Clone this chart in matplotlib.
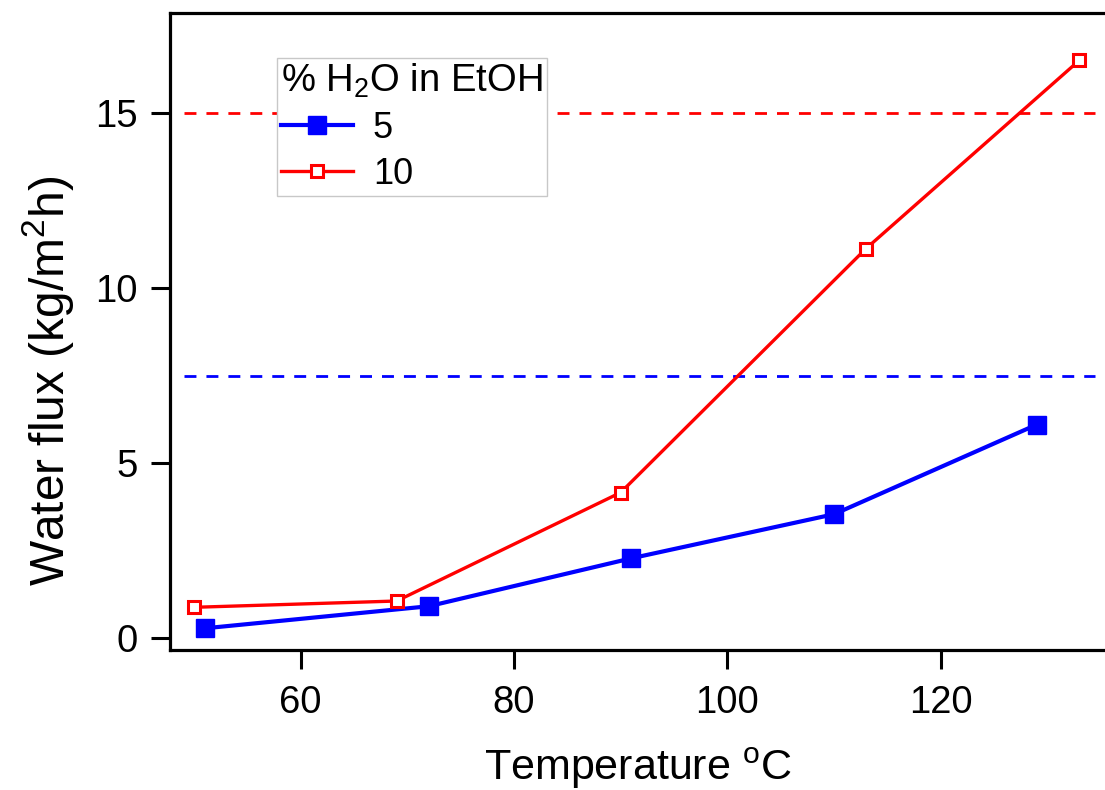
import matplotlib
matplotlib.use("Agg")
from matplotlib import pyplot as plt

plt.rcParams["font.family"] = ["Liberation Sans", "DejaVu Sans"]
plt.rcParams["mathtext.fontset"] = "custom"
plt.rcParams["mathtext.rm"] = "Liberation Sans"
plt.rcParams["mathtext.it"] = "Liberation Sans"

# water flux vs temperature for two feed compositions
temp_5 = [51, 72, 91, 110, 129]
flux_5 = [0.28, 0.91, 2.28, 3.54, 6.1]
temp_10 = [50, 69, 90, 113, 133]
flux_10 = [0.88, 1.06, 4.16, 11.13, 16.51]
limit_5 = 7.5
limit_10 = 15
series_labels = ["5", "10"]
xticks = [60, 80, 100, 120]
yticks = [0, 5, 10, 15]

fig = plt.figure(figsize=(11.05, 7.9), dpi=100)
ax = fig.add_axes([0.1538, 0.1772, 0.8462, 0.8063])

dash = (0, (4.3, 3.6))
ax.axhline(limit_10, xmin=0.015, xmax=0.989, color="red", lw=2.0, ls=dash)
ax.axhline(limit_5, xmin=0.015, xmax=0.989, color="blue", lw=2.0, ls=dash)

ax.plot(temp_5, flux_5, color="blue", lw=3.0, marker="s", ms=12.5,
        mfc="blue", mec="blue", label=series_labels[0])
ax.plot(temp_10, flux_10, color="red", lw=2.4, marker="s", ms=8.6,
        mfc="white", mec="red", mew=2.2, label=series_labels[1])

ax.set_xlim(47.75, 135.4)
ax.set_ylim(-0.34, 17.86)
ax.set_xticks(xticks)
ax.set_yticks(yticks)
ax.tick_params(direction="out", length=14, width=2.2, labelsize=27.5)
ax.tick_params(axis="x", pad=11)
ax.tick_params(axis="y", pad=9)

for side in ["left", "bottom", "top"]:
    ax.spines[side].set_linewidth(2.3)
ax.spines["right"].set_visible(False)

ax.set_xlabel("Temperature $^{\\mathrm{o}}$C", fontsize=31, va="baseline")
ax.xaxis.set_label_coords(0.5, -0.204)
ax.set_ylabel("Water flux (kg/m$^{2}$h)", fontsize=34.5)
ax.yaxis.set_label_coords(-0.1005, 0.422)

leg = ax.legend(title="% H$_{2}$O in EtOH", loc="upper left",
                bbox_to_anchor=(0.114, 0.93), fontsize=26, title_fontsize=27.5,
                frameon=True, fancybox=False, framealpha=1, edgecolor="#c8c8c8",
                handlelength=2.0, handletextpad=0.55, borderpad=0.12,
                labelspacing=0.3, alignment="left", borderaxespad=0)
leg.get_frame().set_linewidth(1.0)

fig.savefig("out.png", dpi=100)
